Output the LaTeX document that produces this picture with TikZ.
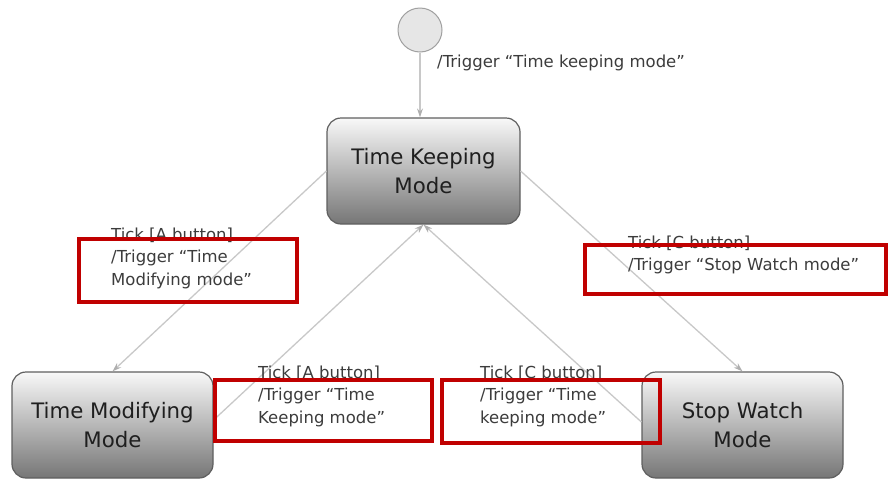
\documentclass[tikz,border=0pt]{standalone}
\usepackage{fontspec}
\setmainfont{DejaVu Sans}
\usetikzlibrary{arrows.meta}

\definecolor{linegray}{RGB}{200,200,200}
\definecolor{tipgray}{RGB}{175,175,175}
\definecolor{stateedge}{RGB}{95,95,95}
\definecolor{statetop}{RGB}{248,248,248}
\definecolor{statebot}{RGB}{118,118,118}
\definecolor{labelink}{RGB}{60,60,60}
\definecolor{markred}{RGB}{192,0,0}
\definecolor{initfill}{RGB}{230,230,230}
\definecolor{initedge}{RGB}{160,160,160}

\tikzset{
  state/.style={draw=stateedge, line width=1.2pt, rounded corners=14pt,
    top color=statetop, bottom color=statebot,
    minimum height=106pt, inner sep=0pt, align=center,
    font=\fontsize{21.3}{28.5}\selectfont, text=black!88},
  initial/.style={circle, draw=initedge, fill=initfill, line width=1pt,
    minimum size=44pt, inner sep=0pt},
  trans/.style={draw=linegray, line width=1.3pt,
    -{Stealth[length=9pt,width=6pt,open,color=tipgray]}},
  guard/.style={anchor=north west, inner sep=0pt, align=left,
    text=labelink, font=\fontsize{16.5}{22.5}\selectfont},
  markbox/.style={draw=markred, line width=4pt}
}

\begin{document}
\begin{tikzpicture}[x=1pt, y=-1pt]
  \useasboundingbox (0,0) rectangle (889,480);

  % states
  \node[initial] (init) at (420,30) {};
  \node[state, minimum width=193pt] (tk) at (423.5,171) {Time Keeping\\Mode};
  \node[state, minimum width=201pt] (tm) at (112.5,425) {Time Modifying\\Mode};
  \node[state, minimum width=201pt] (sw) at (742.5,425) {Stop Watch\\Mode};

  % transitions
  \draw[trans] (init.south) -- (init.south |- tk.north);
  \draw[trans] (tk.west) -- (tm.north);
  \draw[trans] (tk.east) -- (sw.north);
  \draw[trans] ([yshift=5pt]tm.east) -- (tk.south);
  \draw[trans] ([yshift=3pt]sw.west) -- (tk.south);

  % transition labels
  \node[guard] (l0) at (437,54.5) {/Trigger “Time keeping mode”};
  \node[guard] (l1) at (111,227.5) {Tick [A button]\\/Trigger “Time\\Modifying mode”};
  \node[guard] (l2) at (628,235.5) {Tick [C button]\\/Trigger “Stop Watch mode”};
  \node[guard] (l3) at (258,365.5) {Tick [A button]\\/Trigger “Time\\Keeping mode”};
  \node[guard] (l4) at (480,365.5) {Tick [C button]\\/Trigger “Time\\keeping mode”};

  % highlight frames
  \draw[markbox] (79,239) rectangle (297,302);
  \draw[markbox] (585,245) rectangle (886,294);
  \draw[markbox] (215,380) rectangle (432,441);
  \draw[markbox] (442,380) rectangle (660,443);
\end{tikzpicture}
\end{document}
